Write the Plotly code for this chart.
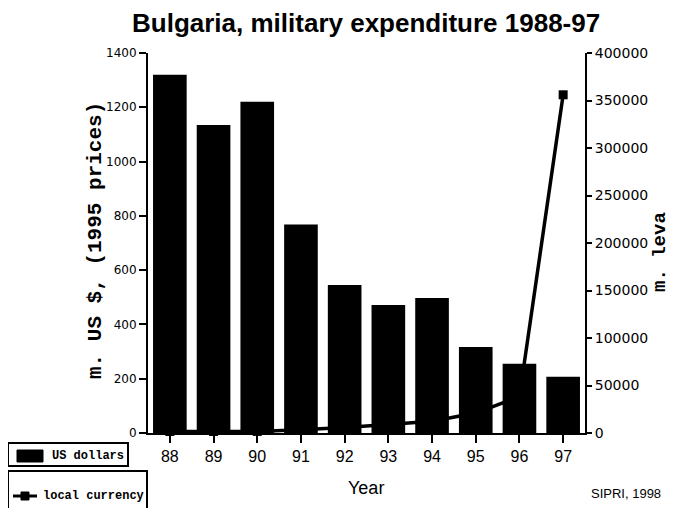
import plotly.graph_objects as go

years = ["88", "89", "90", "91", "92", "93", "94", "95", "96", "97"]
usd = [1320, 1135, 1220, 768, 545, 472, 497, 317, 255, 207]
leva = [1600, 1600, 1650, 3500, 5700, 9000, 12300, 21000, 38500, 356000]
left_ticks = [0, 200, 400, 600, 800, 1000, 1200, 1400]
right_ticks = [0, 50000, 100000, 150000, 200000, 250000, 300000, 350000, 400000]

# page body has an 8px margin; the figure is placed at (8, 8)
OFF = 8
W, H = 675 - OFF, 508 - OFF
L, T = 148 - OFF, 53 - OFF
R, B = W - (585 - OFF), H - (433 - OFF)
PW, PH = W - L - R, H - T - B


def px(x):
    return (x - OFF - L) / PW


def py(y):
    return (H - B - (y - OFF)) / PH


fig = go.Figure()
fig.add_trace(go.Scatter(
    x=years, y=leva, mode="lines+markers", name="local currency",
    line=dict(color="black", width=3.5),
    marker=dict(symbol="square", size=9, color="black"),
    yaxis="y", cliponaxis=False,
))
fig.add_trace(go.Bar(
    x=years, y=usd, name="US dollars", width=0.77,
    marker=dict(color="black", line=dict(width=0)),
    yaxis="y2",
))

axis_common = dict(showline=True, linecolor="black", linewidth=2,
                   ticks="outside", tickcolor="black", tickwidth=2,
                   showgrid=False, zeroline=False)

fig.update_layout(
    width=W, height=H,
    margin=dict(l=L, r=R, t=T, b=B),
    paper_bgcolor="white", plot_bgcolor="white",
    showlegend=False,
    xaxis=dict(type="category", range=[-0.5, 9.5], ticklen=8,
               tickfont=dict(family="Liberation Sans", size=16, color="black"),
               **axis_common),
    yaxis=dict(side="right", range=[0, 400000], tickvals=right_ticks,
               tickformat="d", ticklen=5,
               tickfont=dict(family="DejaVu Sans", size=14, color="black"),
               **axis_common),
    yaxis2=dict(side="left", overlaying="y", range=[0, 1400],
                tickvals=left_ticks, tickformat="d", ticklen=7,
                tickfont=dict(family="DejaVu Sans", size=12, color="black"),
                **axis_common),
)

ann = []
ann.append(dict(text="<b>Bulgaria, military expenditure 1988-97</b>", x=px(366), y=py(23),
                xref="paper", yref="paper", showarrow=False, xanchor="center", yanchor="middle",
                font=dict(family="Liberation Sans", size=26, color="black")))
ann.append(dict(text="<b>m. US $, (1995 prices)</b>", x=px(95), y=py(241), textangle=-90,
                xref="paper", yref="paper", showarrow=False, xanchor="center", yanchor="middle",
                font=dict(family="Liberation Mono", size=21, color="black")))
ann.append(dict(text="<b>m. leva</b>", x=px(660), y=py(252), textangle=-90,
                xref="paper", yref="paper", showarrow=False, xanchor="center", yanchor="middle",
                font=dict(family="Liberation Mono", size=19, color="black")))
ann.append(dict(text="Year", x=px(366), y=py(488),
                xref="paper", yref="paper", showarrow=False, xanchor="center", yanchor="middle",
                font=dict(family="Liberation Sans", size=18, color="black")))
ann.append(dict(text="SIPRI, 1998", x=px(626), y=py(493),
                xref="paper", yref="paper", showarrow=False, xanchor="center", yanchor="middle",
                font=dict(family="Liberation Sans", size=13, color="black")))
ann.append(dict(text="<b>US dollars</b>", x=px(50), y=py(456),
                xref="paper", yref="paper", showarrow=False, xanchor="left", yanchor="middle",
                font=dict(family="Liberation Mono", size=12, color="black")))
ann.append(dict(text="<b>local currency</b>", x=px(41), y=py(496),
                xref="paper", yref="paper", showarrow=False, xanchor="left", yanchor="middle",
                font=dict(family="Liberation Mono", size=12, color="black")))

shapes = []
shapes.append(dict(type="rect", xref="paper", yref="paper",
                   x0=px(8), x1=px(128), y0=py(443), y1=py(466),
                   line=dict(color="black", width=2), fillcolor="rgba(0,0,0,0)"))
shapes.append(dict(type="rect", xref="paper", yref="paper",
                   x0=px(17), x1=px(43), y0=py(450), y1=py(462),
                   line=dict(color="black", width=1), fillcolor="black"))
shapes.append(dict(type="rect", xref="paper", yref="paper",
                   x0=px(8), x1=px(147), y0=py(471), y1=py(512),
                   line=dict(color="black", width=2), fillcolor="rgba(0,0,0,0)"))
shapes.append(dict(type="line", xref="paper", yref="paper",
                   x0=px(13), x1=px(37), y0=py(496), y1=py(496),
                   line=dict(color="black", width=3)))
shapes.append(dict(type="rect", xref="paper", yref="paper",
                   x0=px(21), x1=px(29), y0=py(492), y1=py(500),
                   line=dict(color="black", width=1), fillcolor="black"))

fig.update_layout(annotations=ann, shapes=shapes)
fig.write_html("out.html")
